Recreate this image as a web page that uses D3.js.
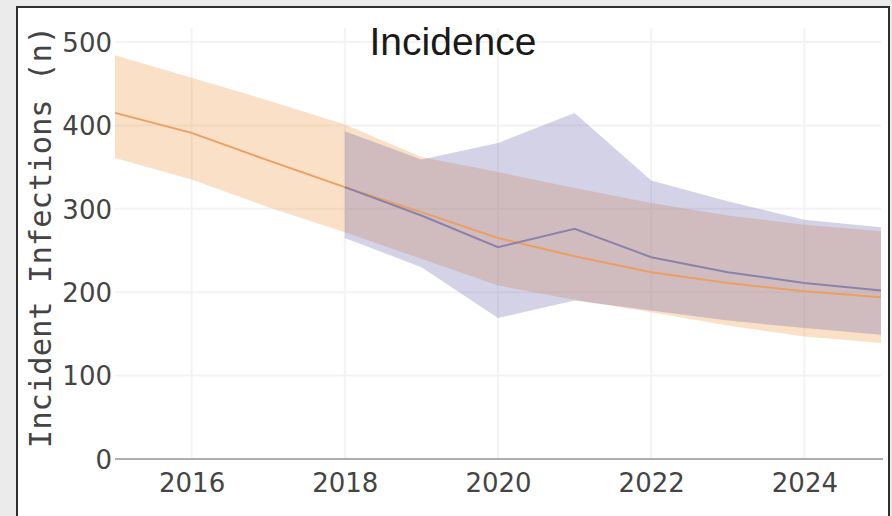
<!DOCTYPE html>
<html>
<head>
<meta charset="utf-8">
<script src="https://cdn.jsdelivr.net/npm/d3@7"></script>
<style>
  html, body { margin: 0; padding: 0; background: #ebebeb; }
  svg { display: block; }
</style>
</head>
<body>
<svg id="chart" width="892" height="516"></svg>
<script>
// Modelled incidence (2015–2025) with uncertainty band
const modelYears = [2015, 2016, 2017, 2018, 2019, 2020, 2021, 2022, 2023, 2024, 2025];
const modelMid   = [415, 391, 358, 326, 296, 265, 243, 224, 211, 201, 194];
const modelUpper = [484, 457, 430, 401, 362, 344, 325, 307, 292, 281, 273];
const modelLower = [361, 335, 302, 272, 240, 208, 191, 176, 160, 147, 139];

// Estimated incidence (2018–2025) with uncertainty band
const estYears = [2018, 2019, 2020, 2021, 2022, 2023, 2024, 2025];
const estMid   = [326, 292, 254, 276, 242, 224, 211, 202];
const estUpper = [393, 359, 379, 415, 334, 309, 287, 278];
const estLower = [265, 230, 169, 190, 178, 166, 157, 149];

const xTicks = [2016, 2018, 2020, 2022, 2024];
const yTicks = [0, 100, 200, 300, 400, 500];

const titleText = "Incidence";
const yTitleText = "Incident Infections (n)";

const svg = d3.select("#chart");

// white panel with dark frame
svg.append("rect")
  .attr("x", 17).attr("y", 7)
  .attr("width", 872).attr("height", 520)
  .attr("fill", "#ffffff")
  .attr("stroke", "#2e2e2e")
  .attr("stroke-width", 2);

const x = d3.scaleLinear().domain([2015, 2025]).range([115, 881]);
const y = d3.scaleLinear().domain([0, 500]).range([459, 42]);
const plotTop = 28;

// grid
const grid = svg.append("g");
grid.selectAll("line.h").data(yTicks.filter(d => d > 0)).join("line")
  .attr("x1", x(2015)).attr("x2", x(2025))
  .attr("y1", d => y(d)).attr("y2", d => y(d))
  .attr("stroke", "#f3f3f3").attr("stroke-width", 2);
grid.selectAll("line.v").data(xTicks).join("line")
  .attr("x1", d => x(d)).attr("x2", d => x(d))
  .attr("y1", plotTop).attr("y2", y(0))
  .attr("stroke", "#f3f3f3").attr("stroke-width", 2);

// bands
const band = (yrs, lo, hi) => d3.area()
  .x((d, i) => x(yrs[i]))
  .y0((d, i) => y(lo[i]))
  .y1((d, i) => y(hi[i]))(yrs);

svg.append("path")
  .attr("d", band(modelYears, modelLower, modelUpper))
  .attr("fill", "rgb(240,152,70)").attr("fill-opacity", 0.3);

svg.append("path")
  .attr("d", band(estYears, estLower, estUpper))
  .attr("fill", "rgb(112,106,172)").attr("fill-opacity", 0.3);

// central lines
const line = (yrs, vals) => d3.line()
  .x((d, i) => x(yrs[i]))
  .y((d, i) => y(vals[i]))(yrs);

svg.append("path")
  .attr("d", line(modelYears, modelMid))
  .attr("fill", "none").attr("stroke", "#e9a062").attr("stroke-width", 2);

svg.append("path")
  .attr("d", line(estYears, estMid))
  .attr("fill", "none").attr("stroke", "#8a82aa").attr("stroke-width", 2);

// zero line
svg.append("line")
  .attr("x1", x(2015)).attr("x2", x(2025) + 2)
  .attr("y1", y(0)).attr("y2", y(0))
  .attr("stroke", "#aab0b0").attr("stroke-width", 2);

// y axis
const yAxis = svg.append("g")
  .attr("transform", `translate(${x(2015) - 3},0)`)
  .call(d3.axisLeft(y).tickValues(yTicks).tickSize(0).tickPadding(0));
yAxis.select(".domain").remove();
yAxis.selectAll("text")
  .attr("font-family", "DejaVu Sans, Verdana, sans-serif")
  .attr("font-size", 26)
  .attr("fill", "#444")
  .attr("dy", "0.36em");

// x axis
const xAxis = svg.append("g")
  .attr("transform", `translate(0,${y(0)})`)
  .call(d3.axisBottom(x).tickValues(xTicks).tickFormat(d3.format("d")).tickSize(0).tickPadding(0));
xAxis.select(".domain").remove();
xAxis.selectAll("text")
  .attr("font-family", "DejaVu Sans, Verdana, sans-serif")
  .attr("font-size", 26)
  .attr("fill", "#444")
  .attr("dy", null)
  .attr("y", 33);

// titles
svg.append("text")
  .attr("x", 453).attr("y", 55)
  .attr("text-anchor", "middle")
  .attr("font-family", "Liberation Sans, Arial, sans-serif")
  .attr("font-size", 39)
  .attr("fill", "#1a1a1a")
  .text(titleText);

svg.append("text")
  .attr("transform", "translate(51,237) rotate(-90)")
  .attr("text-anchor", "middle")
  .attr("font-family", "DejaVu Sans Mono, monospace")
  .attr("font-size", 30.5)
  .attr("fill", "#444")
  .text(yTitleText);
</script>
</body>
</html>
